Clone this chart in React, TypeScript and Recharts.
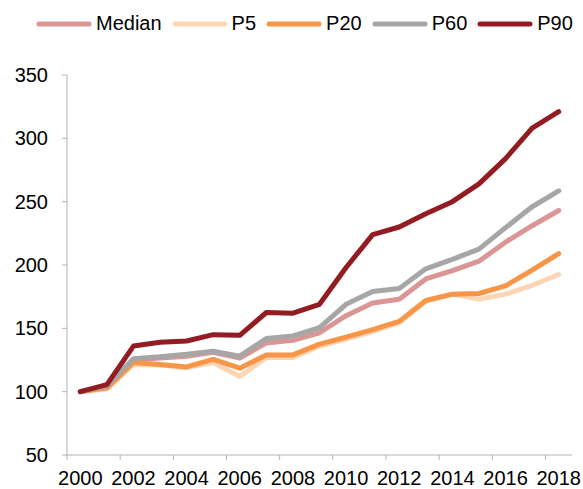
import React from 'react';
import { LineChart, Line, XAxis, YAxis } from 'recharts';

const years = [
  '2000', '2001', '2002', '2003', '2004', '2005', '2006', '2007', '2008', '2009',
  '2010', '2011', '2012', '2013', '2014', '2015', '2016', '2017', '2018',
];

const median = [100, 104, 125, 126.5, 128, 131, 126.5, 138.5, 140.5, 146.5, 160, 170, 173, 189, 195.5, 203, 218, 231, 243];
const p5 = [100, 102, 121.5, 121, 119, 123, 112, 127, 127, 136, 141.5, 147.5, 154.5, 171.5, 177, 173, 177, 184, 192.5];
const p20 = [100, 103, 123, 121.5, 119.5, 125.5, 118.5, 129, 129, 137.5, 143, 149, 155.5, 172, 177, 177.5, 183.5, 196, 209];
const p60 = [100, 104.5, 126, 127.5, 129.5, 132, 128, 142, 144, 150.5, 169, 179, 181.5, 197, 204.5, 212.5, 229.5, 246, 258.5];
const p90 = [100, 105.5, 136, 139, 140, 145, 144.5, 162.5, 162, 169, 198, 224, 230, 240.5, 250, 264, 284, 308, 321];

const yTicks = [50, 100, 150, 200, 250, 300, 350];

const series = [
  { key: 'median', name: 'Median', color: '#D99694', values: median },
  { key: 'p5', name: 'P5', color: '#FCD5B5', values: p5 },
  { key: 'p20', name: 'P20', color: '#F79646', values: p20 },
  { key: 'p60', name: 'P60', color: '#A6A6A6', values: p60 },
  { key: 'p90', name: 'P90', color: '#931C22', values: p90 },
];

const data = years.map((year, i) => {
  const row: Record<string, string | number> = { year };
  series.forEach((s) => {
    row[s.key] = s.values[i];
  });
  return row;
});

const WIDTH = 583;
const HEIGHT = 489;
const MARGIN = { top: 75, right: 11, bottom: 4, left: 0 };
const Y_AXIS_WIDTH = 67;
const X_AXIS_HEIGHT = 30;
const FONT = '"Liberation Sans", Arial, sans-serif';
const AXIS_COLOR = '#B3B3B3';

const plotWidth = WIDTH - MARGIN.left - MARGIN.right - Y_AXIS_WIDTH;
const halfBand = plotWidth / years.length / 2;

function YearTick(props: any) {
  const { x, y, payload } = props;
  return (
    <g>
      <line x1={x - halfBand} y1={y} x2={x - halfBand} y2={y + 5} stroke={AXIS_COLOR} strokeWidth={1} />
      <text x={x} y={y + 30} textAnchor="middle" fill="#000" fontSize={20} fontFamily={FONT}>
        {payload.value}
      </text>
    </g>
  );
}

function ChartLegend() {
  return (
    <div
      style={{
        position: 'absolute',
        left: 36,
        top: 12,
        display: 'flex',
        alignItems: 'center',
        fontFamily: FONT,
        fontSize: 20,
        color: '#000',
        whiteSpace: 'nowrap',
      }}
    >
      {series.map((s) => (
        <div key={s.key} style={{ display: 'flex', alignItems: 'center', marginRight: 10 }}>
          <svg width={56} height={8} style={{ marginRight: 4 }}>
            <line x1={3} y1={4} x2={53} y2={4} stroke={s.color} strokeWidth={5} strokeLinecap="round" />
          </svg>
          <span>{s.name}</span>
        </div>
      ))}
    </div>
  );
}

export default function App() {
  return (
    <div style={{ position: 'absolute', left: 0, top: 0, width: WIDTH, height: HEIGHT, background: '#fff' }}>
      <ChartLegend />
      <LineChart width={WIDTH} height={HEIGHT} data={data} margin={MARGIN}>
        <XAxis
          dataKey="year"
          height={X_AXIS_HEIGHT}
          interval={1}
          padding={{ left: halfBand, right: halfBand }}
          stroke={AXIS_COLOR}
          tickLine={false}
          tickSize={0}
          tickMargin={0}
          tick={<YearTick />}
        />
        <YAxis
          width={Y_AXIS_WIDTH}
          domain={[50, 350]}
          ticks={yTicks}
          stroke={AXIS_COLOR}
          tickSize={5}
          tickMargin={14}
          tick={{ fill: '#000', fontSize: 20, fontFamily: FONT }}
        />
        {series.map((s) => (
          <Line
            key={s.key}
            dataKey={s.key}
            name={s.name}
            stroke={s.color}
            strokeWidth={5}
            strokeLinejoin="round"
            strokeLinecap="round"
            dot={false}
            activeDot={false}
            isAnimationActive={false}
          />
        ))}
      </LineChart>
    </div>
  );
}
